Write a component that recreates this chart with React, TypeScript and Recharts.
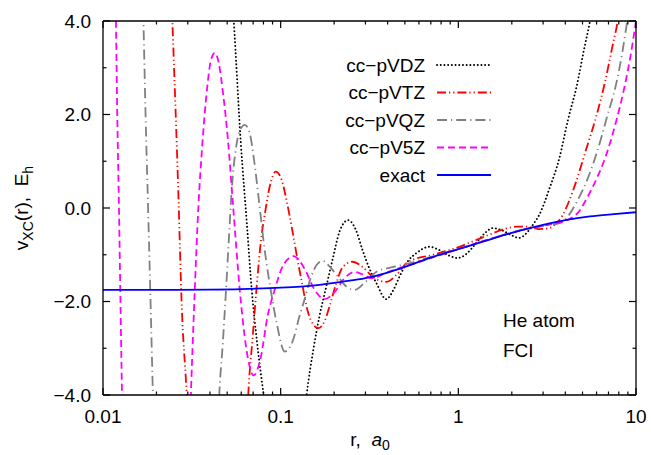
import React from 'react';
import { LineChart, Line, XAxis, YAxis, Customized } from 'recharts';

// r (a0) vs v_xc (Eh)
const exact: [number, number][] = [
  [0.01, -1.75], [0.02, -1.75], [0.04, -1.745], [0.06, -1.735], [0.08, -1.72], [0.1, -1.705],
  [0.13, -1.68], [0.17, -1.64], [0.22, -1.58], [0.3, -1.5], [0.4, -1.38], [0.5, -1.26],
  [0.7, -1.06], [1.0, -0.88], [1.4, -0.71], [2, -0.53], [3, -0.36], [4, -0.26], [5.5, -0.18],
  [7.5, -0.13], [10, -0.09],
];

const vdz: [number, number][] = [
  [0.01, 40], [0.03506, 14], [0.04848, 6.5], [0.05445, 4], [0.05963, 1.4], [0.06442, -0.3],
  [0.06874, -1.75], [0.07379, -2.9], [0.08026, -4], [0.08899, -5.2], [0.1067, -6.0], [0.1279, -5.5],
  [0.14, -4], [0.1532, -3.0], [0.1656, -2.3], [0.1806, -1.68], [0.196, -1.1], [0.2146, -0.5],
  [0.2395, -0.26], [0.2638, -0.45], [0.2889, -0.9], [0.3162, -1.3], [0.3462, -1.61], [0.3926, -1.95],
  [0.4314, -1.75], [0.4662, -1.47], [0.5171, -1.15], [0.5787, -0.97], [0.6873, -0.83], [0.7822, -0.9],
  [0.89, -1.02], [0.9872, -1.07], [1.095, -1.0], [1.23, -0.8], [1.4, -0.55], [1.559, -0.43],
  [1.767, -0.48], [1.986, -0.58], [2.202, -0.64], [2.441, -0.52], [2.673, -0.32], [2.852, -0.15],
  [3.245, 0.4], [3.694, 1.05], [4.15, 1.9], [4.632, 2.6], [5.106, 3.4], [5.516, 4.0], [6.197, 5.0],
];

const vtz: [number, number][] = [
  [0.01, 30], [0.0209, 11], [0.02259, 7.6], [0.02457, 4], [0.02662, 0.17], [0.02767, -1.97],
  [0.0296, -4], [0.03204, -7], [0.04, -14], [0.05, -11], [0.06197, -6.5], [0.06568, -4],
  [0.06961, -2.75], [0.07303, -1.75], [0.07794, -0.61], [0.08131, -0.15], [0.08676, 0.46],
  [0.09374, 0.78], [0.1013, 0.6], [0.1081, 0.15], [0.1153, -0.4], [0.123, -1.0], [0.133, -1.68],
  [0.1418, -2.2], [0.1532, -2.5], [0.1635, -2.57], [0.1767, -2.42], [0.1885, -2.1], [0.2055, -1.61],
  [0.2239, -1.26], [0.2538, -1.15], [0.2889, -1.26], [0.3288, -1.47], [0.3926, -1.58], [0.4485, -1.43],
  [0.5105, -1.18], [0.5808, -1.08], [0.6873, -1.02], [0.8343, -0.93], [1.013, -0.83], [1.23, -0.7],
  [1.494, -0.57], [1.813, -0.45], [2.118, -0.4], [2.441, -0.4], [2.852, -0.45], [3.245, -0.43],
  [3.553, -0.33], [3.84, -0.17], [4.204, 0.15], [4.543, 0.5], [5.237, 1.25], [5.963, 1.95],
  [6.697, 2.7], [7.333, 3.42], [7.852, 3.95], [9.135, 5.8], [10, 7.0],
];

const vqz: [number, number][] = [
  [0.01, 35], [0.01532, 10], [0.01689, 4], [0.01736, 2], [0.01794, 0], [0.01851, -1.97],
  [0.01909, -4], [0.0209, -10], [0.03082, -20], [0.04258, -7], [0.04513, -4], [0.04723, -2.9],
  [0.04909, -1.85], [0.05104, -0.7], [0.05306, 0.4], [0.05587, 1.25], [0.05886, 1.65], [0.06279, 1.78],
  [0.06697, 1.6], [0.07099, 1.0], [0.07523, 0.2], [0.08131, -0.9], [0.08787, -1.75], [0.09495, -2.46],
  [0.1053, -3.07], [0.1168, -2.85], [0.1279, -2.3], [0.1364, -1.95], [0.1484, -1.47], [0.1593, -1.22],
  [0.1722, -1.13], [0.1885, -1.25], [0.2063, -1.43], [0.2379, -1.7], [0.2604, -1.75], [0.3003, -1.58],
  [0.3507, -1.35], [0.4097, -1.28], [0.4845, -1.22], [0.6039, -1.12], [0.8, -0.98], [1.1, -0.83],
  [1.5, -0.67], [2.0, -0.52], [2.6, -0.43], [3.24, -0.36], [3.69, -0.33], [4.093, -0.2],
  [4.667, 0.15], [5.309, 0.6], [6.039, 1.2], [6.871, 1.95], [7.727, 2.65], [8.395, 3.35],
  [8.845, 3.9], [10, 5.0],
];

const v5z: [number, number][] = [
  [0.01, 20], [0.01095, 12], [0.01183, 4], [0.01203, 2], [0.0123, 0], [0.01254, -2], [0.01279, -4],
  [0.01382, -12], [0.0209, -20], [0.02888, -8], [0.03122, -4], [0.03266, -2], [0.0344, 0],
  [0.03646, 1.5], [0.03865, 2.6], [0.04044, 3.15], [0.04258, 3.32], [0.04484, 3.1], [0.04723, 2.5],
  [0.05038, 1.5], [0.05409, 0], [0.05886, -1.75], [0.06401, -3.0], [0.07052, -3.58], [0.07719, -3.2],
  [0.08453, -2.3], [0.09254, -1.75], [0.1026, -1.25], [0.1183, -1.03], [0.1364, -1.3], [0.1552, -1.75],
  [0.1767, -1.95], [0.2011, -1.8], [0.2289, -1.5], [0.2604, -1.37], [0.2889, -1.42], [0.3245, -1.5],
  [0.4, -1.37], [0.5, -1.25], [0.7, -1.07], [1.0, -0.88], [1.4, -0.7], [2.0, -0.53], [2.6, -0.42],
  [3.2, -0.36], [3.8, -0.3], [4.2, -0.24], [4.786, -0.07], [5.309, 0.22], [5.957, 0.6],
  [6.776, 1.12], [7.727, 1.85], [8.57, 2.55], [9.311, 3.25], [10, 4.0],
];

const xTicks = [0.01, 0.02, 0.03, 0.04, 0.05, 0.06, 0.07, 0.08, 0.09, 0.1, 0.2, 0.3, 0.4, 0.5, 0.6, 0.7, 0.8, 0.9, 1, 2, 3, 4, 5, 6, 7, 8, 9, 10];
const xMajor = [0.01, 0.1, 1, 10];
const xMajorLabels = ['0.01', '0.1', '1', '10'];
const yTicks = [-4, -3, -2, -1, 0, 1, 2, 3, 4];
const yMajor = [-4, -2, 0, 2, 4];
const yMajorLabels = ['\u22124.0', '\u22122.0', '0.0', '2.0', '4.0'];

const FONT = '"Liberation Sans", Arial, Helvetica, sans-serif';

const series = [
  { name: 'cc\u2212pVDZ', data: vdz, color: '#000000', dash: '0.1 3.6', width: 1.9, cap: 'round' },
  { name: 'cc\u2212pVTZ', data: vtz, color: '#ff0000', dash: '9 3 1.2 3 1.2 3', width: 1.8, cap: 'butt' },
  { name: 'cc\u2212pVQZ', data: vqz, color: '#808080', dash: '10 4 1.2 4', width: 1.8, cap: 'butt' },
  { name: 'cc\u2212pV5Z', data: v5z, color: '#ff00ff', dash: '7 4', width: 1.8, cap: 'butt' },
  { name: 'exact', data: exact, color: '#0000ff', dash: undefined, width: 1.8, cap: 'butt' },
];

const toRows = (pts: [number, number][]) => pts.map(([r, v]) => ({ r, v }));

const tickText = { fontSize: 19, fontFamily: FONT, fill: '#000' };

function makeXTick(side: 'top' | 'bottom') {
  return (props: any) => {
    const { x, y, payload } = props;
    const i = xMajor.indexOf(payload.value);
    const len = i >= 0 ? 7 : 3.5;
    const dir = side === 'top' ? 1 : -1;
    return (
      <g>
        <line x1={x} x2={x} y1={y} y2={y + dir * len} stroke="#000" strokeWidth={1.2} />
        {side === 'bottom' && i >= 0 && (
          <text x={x} y={y + 28} textAnchor="middle" {...tickText}>{xMajorLabels[i]}</text>
        )}
      </g>
    );
  };
}

function makeYTick(side: 'left' | 'right') {
  return (props: any) => {
    const { x, y, payload } = props;
    const i = yMajor.indexOf(payload.value);
    const len = i >= 0 ? 7 : 3.5;
    const dir = side === 'left' ? 1 : -1;
    return (
      <g>
        <line x1={x} x2={x + dir * len} y1={y} y2={y} stroke="#000" strokeWidth={1.2} />
        {side === 'left' && i >= 0 && (
          <text x={x - 12} y={y + 6.8} textAnchor="end" {...tickText}>{yMajorLabels[i]}</text>
        )}
      </g>
    );
  };
}

function Overlay() {
  return (
    <g fontFamily={FONT} fontSize={19} fill="#000">
      {series.map((s, i) => {
        const cy = 65 + i * 27.5;
        return (
          <g key={s.name}>
            <text x={425} y={cy + 6.8} textAnchor="end">{s.name}</text>
            <line x1={437} x2={491} y1={cy} y2={cy} stroke={s.color} strokeWidth={s.width}
              strokeDasharray={s.dash} strokeLinecap={s.cap as any} />
          </g>
        );
      })}
      <text x={503} y={327}>He atom</text>
      <text x={503} y={357}>FCI</text>
      <text x={370} y={446} textAnchor="middle">
        r,{'\u00a0\u00a0'}<tspan fontStyle="italic">a</tspan><tspan fontSize={14} dy={4}>0</tspan>
      </text>
      <text transform="translate(28,208) rotate(-90)" textAnchor="middle">
        v<tspan fontSize={14} dy={5}>XC</tspan><tspan dy={-5}>(r),{'\u00a0\u00a0'}E</tspan><tspan fontSize={14} dy={5}>h</tspan>
      </text>
    </g>
  );
}

export default function App() {
  const axisLine = { stroke: '#000', strokeWidth: 1.3 };
  return (
    <div style={{ position: 'absolute', left: 0, top: 0, background: '#fff' }}>
      <LineChart width={651} height={455} margin={{ top: 20, right: 14, bottom: 30, left: 43 }}>
        <XAxis dataKey="r" type="number" scale="log" domain={[0.01, 10]} allowDataOverflow
          ticks={xTicks} interval={0} height={30} tickSize={0} tickMargin={0} tickLine={false}
          axisLine={axisLine} tick={makeXTick('bottom')} />
        <XAxis xAxisId="top" orientation="top" dataKey="r" type="number" scale="log" domain={[0.01, 10]}
          allowDataOverflow ticks={xTicks} interval={0} height={1} tickSize={0} tickMargin={0}
          tickLine={false} axisLine={axisLine} tick={makeXTick('top')} />
        <YAxis type="number" domain={[-4, 4]} allowDataOverflow ticks={yTicks} interval={0} width={60}
          tickSize={0} tickMargin={0} tickLine={false} axisLine={axisLine} tick={makeYTick('left')} />
        <YAxis yAxisId="right" orientation="right" type="number" domain={[-4, 4]} allowDataOverflow
          ticks={yTicks} interval={0} width={1} tickSize={0} tickMargin={0} tickLine={false}
          axisLine={axisLine} tick={makeYTick('right')} />
        {series.map((s) => (
          <Line key={s.name} data={toRows(s.data)} dataKey="v" type="monotone" stroke={s.color}
            strokeWidth={s.width} strokeDasharray={s.dash} strokeLinecap={s.cap as any}
            dot={false} activeDot={false} isAnimationActive={false} />
        ))}
        <Customized component={Overlay} />
      </LineChart>
    </div>
  );
}
